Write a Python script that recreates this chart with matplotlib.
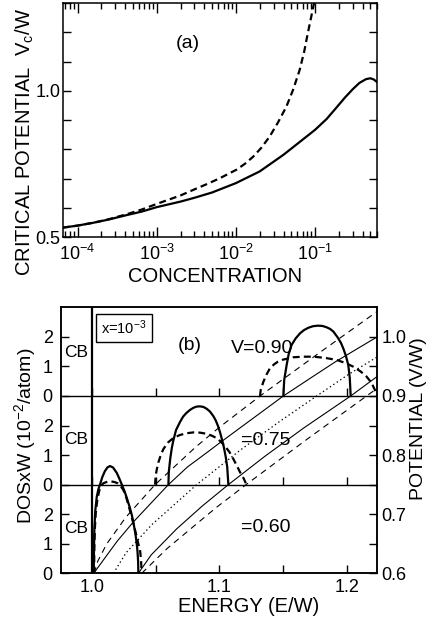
import matplotlib
matplotlib.use('Agg')
import matplotlib.pyplot as plt
from matplotlib.ticker import FixedLocator, NullFormatter, LogLocator

plt.rcParams['font.family'] = ['Liberation Sans', 'DejaVu Sans']
plt.rcParams['mathtext.fontset'] = 'custom'
plt.rcParams['mathtext.rm'] = 'Liberation Sans'
plt.rcParams['mathtext.it'] = 'Liberation Sans'
plt.rcParams['lines.scale_dashes'] = False

# ---------------- (a) critical potential vs concentration ----------------
conc_solid = [6.5e-5, 1e-4, 1.6e-4, 2.5e-4, 4.2e-4, 6.5e-4, 1e-3, 2e-3, 3e-3, 5e-3,
              1e-2, 2e-2, 4e-2, 6.5e-2, 0.1, 0.14, 0.185, 0.24, 0.30, 0.363, 0.44, 0.50, 0.55, 0.6]
vc_solid = [0.533, 0.540, 0.550, 0.561, 0.576, 0.588, 0.603, 0.622, 0.635, 0.653,
            0.685, 0.725, 0.782, 0.827, 0.867, 0.904, 0.942, 0.978, 1.006, 1.027, 1.040, 1.043, 1.039, 1.031]

conc_dash = [6.5e-5, 1e-4, 1.6e-4, 2.5e-4, 4.2e-4, 6.5e-4, 1e-3, 2e-3, 2.9e-3, 4.5e-3,
             6.3e-3, 1.02e-2, 1.3e-2, 1.65e-2, 2.1e-2, 2.67e-2, 3.4e-2, 4.34e-2, 5.3e-2,
             6.4e-2, 7.3e-2, 8.1e-2, 8.9e-2, 9.7e-2]
vc_dash = [0.533, 0.540, 0.550, 0.562, 0.579, 0.595, 0.614, 0.643, 0.662, 0.684,
           0.702, 0.731, 0.751, 0.775, 0.806, 0.844, 0.892, 0.946, 1.005,
           1.072, 1.135, 1.197, 1.25, 1.30]

# ---------------- (b) DOS for x=1e-3 ----------------
panel_offset = [0, 3, 6]          # V = 0.60, 0.75, 0.90

# DOS curves (E/W, DOS relative to each panel baseline)
e_solid = [
    [1.0013, 1.0015, 1.0018, 1.0025, 1.0037, 1.0050, 1.0063, 1.0080, 1.0100, 1.0120, 1.0141, 1.0165,
     1.0194, 1.0215, 1.0233, 1.0255, 1.0273, 1.0295, 1.0312, 1.0328, 1.0340, 1.0350, 1.0357, 1.0362, 1.0364],
    [1.0600, 1.0603, 1.0615, 1.0627, 1.0639, 1.0660, 1.0691, 1.0715, 1.0740, 1.0770, 1.0796, 1.0820,
     1.0848, 1.0875, 1.0900, 1.0925, 1.0953, 1.0972, 1.0990, 1.1005, 1.1019, 1.1035, 1.1050, 1.1062, 1.1071],
    [1.1503, 1.1510, 1.1529, 1.1545, 1.1568, 1.1600, 1.1634, 1.1665, 1.1700, 1.1735, 1.1773, 1.1810,
     1.1840, 1.1870, 1.1896, 1.1930, 1.1955, 1.1974, 1.1995, 1.2013, 1.2025, 1.2032],
]
dos_solid = [
    [0, 0.7, 1.47, 2.1, 2.59, 2.85, 3.01, 3.25, 3.45, 3.58, 3.63, 3.58,
     3.40, 3.20, 3.01, 2.78, 2.55, 2.25, 1.98, 1.65, 1.35, 1.05, 0.75, 0.4, 0],
    [0, 0.43, 0.9, 1.25, 1.50, 1.85, 2.12, 2.30, 2.42, 2.53, 2.60, 2.64,
     2.65, 2.63, 2.57, 2.48, 2.32, 2.17, 1.98, 1.78, 1.56, 1.28, 0.95, 0.6, 0],
    [0, 0.55, 1.05, 1.42, 1.73, 1.95, 2.12, 2.23, 2.31, 2.36, 2.38, 2.37,
     2.33, 2.27, 2.18, 1.98, 1.80, 1.61, 1.35, 1.05, 0.6, 0],
]
e_dash = [
    [1.0016, 1.0017, 1.0018, 1.0022, 1.0029, 1.0042, 1.0058, 1.0072, 1.0090, 1.0120, 1.0150, 1.0175,
     1.0200, 1.0225, 1.0246, 1.0270, 1.0304, 1.0330, 1.0351, 1.0366, 1.0377, 1.0385, 1.0390],
    [1.0495, 1.0500, 1.0508, 1.0521, 1.0540, 1.0560, 1.0595, 1.0639, 1.0690, 1.0744, 1.0800, 1.0848,
     1.0900, 1.0945, 1.0980, 1.1005, 1.1040, 1.1080, 1.1110, 1.1140, 1.1163, 1.1190, 1.1205, 1.1210],
    [1.1320, 1.1325, 1.1346, 1.1370, 1.1398, 1.1430, 1.1460, 1.1500, 1.1580, 1.1660, 1.1739, 1.1830,
     1.1922, 1.2000, 1.2053, 1.2110, 1.2158, 1.2195, 1.2223, 1.2235, 1.2239],
]
dos_dash = [
    [0, 0.45, 0.9, 1.5, 2.03, 2.5, 2.82, 2.97, 3.05, 3.10, 3.11, 3.09,
     3.05, 2.95, 2.82, 2.55, 2.03, 1.6, 1.24, 0.95, 0.79, 0.45, 0],
    [0, 0.3, 0.5, 0.75, 1.0, 1.2, 1.42, 1.58, 1.68, 1.74, 1.77, 1.76,
     1.72, 1.65, 1.57, 1.48, 1.33, 1.10, 0.87, 0.62, 0.42, 0.22, 0.08, 0],
    [0, 0.2, 0.48, 0.72, 0.94, 1.07, 1.16, 1.23, 1.31, 1.33, 1.33, 1.29,
     1.22, 1.10, 0.99, 0.83, 0.65, 0.45, 0.2, 0.08, 0],
]

# band edges / centre against potential (right axis)
edge_lo_solid_e = [1.0013, 1.0089, 1.0200, 1.0325, 1.0460, 1.0600, 1.0750, 1.0913, 1.1005, 1.1213,
                   1.1503, 1.1700, 1.1913, 1.2240]
edge_lo_solid_v = [0.600, 0.6225, 0.655, 0.687, 0.718, 0.750, 0.780, 0.806, 0.821, 0.854,
                   0.900, 0.928, 0.958, 1.000]
edge_hi_solid_e = [1.0364, 1.0464, 1.0664, 1.0864, 1.0980, 1.1071, 1.1364, 1.1664, 1.2032, 1.2240]
edge_hi_solid_v = [0.600, 0.631, 0.675, 0.7135, 0.734, 0.750, 0.799, 0.846, 0.900, 0.933]
edge_lo_dash_e = [1.0016, 1.0046, 1.0116, 1.0266, 1.0495, 1.0816, 1.1000, 1.1320, 1.1766, 1.2240]
edge_lo_dash_v = [0.600, 0.621, 0.650, 0.695, 0.750, 0.814, 0.847, 0.900, 0.970, 1.043]
edge_hi_dash_e = [1.0390, 1.0590, 1.0890, 1.0980, 1.1210, 1.1690, 1.2240]
edge_hi_dash_v = [0.600, 0.642, 0.696, 0.712, 0.750, 0.827, 0.913]
centre_e = [1.0168, 1.0268, 1.0468, 1.0822, 1.1168, 1.1468, 1.1765, 1.2018, 1.2240]
centre_v = [0.600, 0.635, 0.682, 0.750, 0.809, 0.856, 0.900, 0.937, 0.966]

cb_edge = 1.0

fig = plt.figure(figsize=(4.28, 6.19), dpi=100)

# ----- panel (a) -----
ax_a = fig.add_axes([0.1465, 0.6166, 0.7336, 0.3786])
ax_a.plot(conc_solid, vc_solid, color='k', lw=1.6)
ax_a.plot(conc_dash, vc_dash, color='k', lw=1.6, dashes=(5, 3))
ax_a.set_xscale('log')
ax_a.set_xlim(6.5e-5, 0.6)
ax_a.set_ylim(0.5, 1.3)
ax_a.yaxis.set_major_locator(FixedLocator([0.5, 0.6, 0.7, 0.8, 0.9, 1.0, 1.1, 1.2, 1.3]))
ax_a.set_yticklabels(['0.5', '', '', '', '', '1.0', '', '', ''])
ax_a.xaxis.set_major_locator(LogLocator(base=10))
ax_a.xaxis.set_minor_locator(LogLocator(base=10, subs=range(2, 10)))
ax_a.xaxis.set_minor_formatter(NullFormatter())
ax_a.tick_params(which='both', direction='in', top=True, right=True, labelsize=13)
ax_a.tick_params(which='major', length=7, width=1)
ax_a.tick_params(which='minor', length=4, width=1)
ax_a.tick_params(axis='y', which='major', length=6, pad=1.5)
ax_a.tick_params(axis='x', which='major', pad=5)
for s in ax_a.spines.values():
    s.set_linewidth(1.1)

fig.text(0.439, 0.9305, '(a)', fontsize=14, ha='center', va='center')
fig.text(0.502, 0.554, 'CONCENTRATION', fontsize=14.5, ha='center', va='center')
fig.text(0.058, 0.771, 'CRITICAL POTENTIAL  V$_c$/W', fontsize=14.5, ha='center',
         va='center', rotation=90)

# ----- panel (b) -----
ax_b = fig.add_axes([0.1425, 0.0738, 0.739, 0.4297])
ax_v = ax_b.twinx()
ax_b.set_xlim(0.9756, 1.2241)
ax_b.set_ylim(0, 9)
ax_v.set_ylim(0.6, 1.05)

for i, off in enumerate(panel_offset):
    ax_b.plot(e_solid[i], [off + d for d in dos_solid[i]], color='k', lw=1.6)
    ax_b.plot(e_dash[i], [off + d for d in dos_dash[i]], color='k', lw=1.6, dashes=(5, 3))
    ax_b.vlines(cb_edge, off, off + 3, color='k', lw=1.6)
    if off > 0:
        ax_b.axhline(off, color='k', lw=1.0)
        ax_b.vlines([1.0, 1.05, 1.1, 1.15, 1.2], off, off + 0.27, color='k', lw=1.0)

ax_v.plot(edge_lo_solid_e, edge_lo_solid_v, color='k', lw=0.8)
ax_v.plot(edge_hi_solid_e, edge_hi_solid_v, color='k', lw=0.8)
ax_v.plot(edge_lo_dash_e, edge_lo_dash_v, color='k', lw=0.8, dashes=(4.5, 3.5))
ax_v.plot(edge_hi_dash_e, edge_hi_dash_v, color='k', lw=0.8, dashes=(4.5, 3.5))
ax_v.plot(centre_e, centre_v, color='k', lw=0.9, dashes=(1, 2))

ax_b.set_xticks([1.0, 1.1, 1.2])
ax_b.set_xticklabels(['1.0', '1.1', '1.2'])
ax_b.set_xticks([1.05, 1.15], minor=True)
ax_b.set_yticks([0, 1, 2, 3, 4, 5, 6, 7, 8])
ax_b.set_yticklabels(['0', '1', '2', '0', '1', '2', '0', '1', '2'])
ax_b.tick_params(which='both', direction='in', labelsize=13, length=6, width=1, right=False)
ax_b.tick_params(axis='y', pad=6)
ax_b.tick_params(axis='x', pad=4)
ax_v.set_yticks([0.6, 0.7, 0.8, 0.9, 1.0])
ax_v.set_yticklabels(['0.6', '0.7', '0.8', '0.9', '1.0'])
ax_v.set_yticks([0.65, 0.75, 0.85, 0.95], minor=True)
ax_v.tick_params(which='both', direction='in', labelsize=13, length=6, width=1, pad=3)
for s in list(ax_b.spines.values()) + list(ax_v.spines.values()):
    s.set_linewidth(1.1)

for ycb in [0.4313, 0.2892, 0.1470]:
    fig.text(0.1776, ycb, 'CB', fontsize=12.5, ha='center', va='center')
fig.text(0.444, 0.4426, '(b)', fontsize=14, ha='center', va='center')
fig.text(0.612, 0.4378, 'V=0.90', fontsize=14, ha='center', va='center')
fig.text(0.563, 0.289, '=0.75', fontsize=14, ha='left', va='center')
fig.text(0.563, 0.1486, '=0.60', fontsize=14, ha='left', va='center')
fig.text(0.2897, 0.470, 'x=10$^{-3}$', fontsize=10.5, ha='center', va='center',
         bbox=dict(boxstyle='square,pad=0.35', fc='white', ec='k', lw=1))
fig.text(0.582, 0.020, 'ENERGY (E/W)', fontsize=14.5, ha='center', va='center')
fig.text(0.058, 0.2956, 'DOSxW (10$^{-2}$/atom)', fontsize=14, ha='center',
         va='center', rotation=90)
fig.text(0.977, 0.323, 'POTENTIAL (V/W)', fontsize=14, ha='center',
         va='center', rotation=90)

fig.savefig('out.png', dpi=100)
